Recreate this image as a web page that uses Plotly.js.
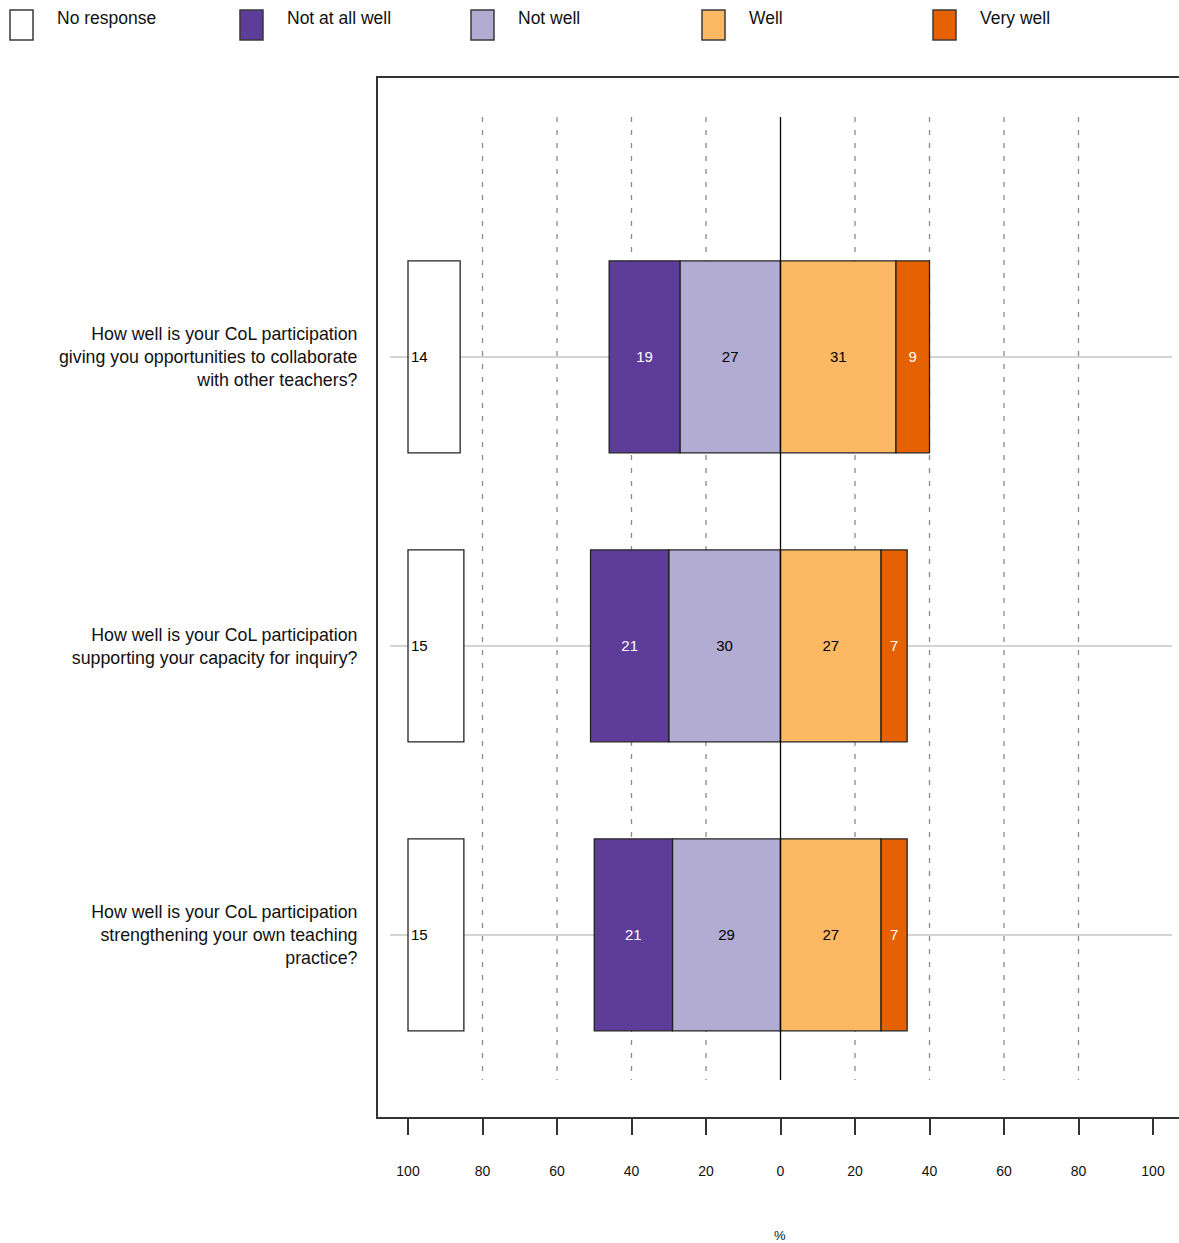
<!DOCTYPE html>
<html>
<head>
<meta charset="utf-8">
<script src="https://cdn.plot.ly/plotly-3.0.1.min.js"></script>
<style>body{margin:0;padding:0;background:#fff}#chart{width:1179px;height:1243px}</style>
</head>
<body>
<div id="chart"></div>
<script>
// ---- data ----
const questions = [
  "How well is your CoL participation<br>giving you opportunities to collaborate<br>with other teachers?",
  "How well is your CoL participation<br>supporting your capacity for inquiry?",
  "How well is your CoL participation<br>strengthening your own teaching<br>practice?"
];
const categories = ["No response", "Not at all well", "Not well", "Well", "Very well"];
const noResponse = [14, 15, 15];
const notAtAllWell = [19, 21, 21];
const notWell = [27, 30, 29];
const well = [31, 27, 27];
const veryWell = [9, 7, 7];
const colors = ["#ffffff", "#5e3c99", "#b2abd2", "#fdb863", "#e66101"];
const textColors = ["#000000", "#ffffff", "#000000", "#000000", "#ffffff"];
const xTickVals = [-100, -80, -60, -40, -20, 0, 20, 40, 60, 80, 100];
const xTickText = ["100", "80", "60", "40", "20", "0", "20", "40", "60", "80", "100"];
const gridVals = [-80, -60, -40, -20, 20, 40, 60, 80];

// ---- layout helpers ----
const W = 1179, H = 1243;
const L = 378, T = 78, B = 1117, R = 1179;
const xp = px => (px - L) / (R - L);
const yp = py => (B - py) / (B - T);
const FONT = "Liberation Sans, Arial, sans-serif";
const barW = 0.664;
const outline = {color: "#222222", width: 1.3};

function barTrace(name, base, vals, idx, anchor) {
  return {
    type: "bar", orientation: "h", name: name,
    y: questions, x: vals, base: base,
    width: barW,
    marker: {color: colors[idx], line: outline},
    text: vals.map(v => Math.abs(v).toString()),
    textposition: "inside",
    insidetextanchor: anchor || "middle",
    textangle: 0,
    constraintext: "none",
    textfont: {family: FONT, size: 15, color: textColors[idx]},
    hoverinfo: "skip",
    showlegend: false
  };
}

const negNotWell = notWell.map(v => -v);
const negNotAtAll = notAtAllWell.map(v => -v);
const traces = [
  barTrace(categories[0], noResponse.map(() => -100), noResponse, 0, "start"),
  barTrace(categories[2], notWell.map(() => 0), negNotWell, 2),
  barTrace(categories[1], negNotWell, negNotAtAll, 1),
  barTrace(categories[3], well.map(() => 0), well, 3),
  barTrace(categories[4], well, veryWell, 4)
];

const shapes = [];
// horizontal light lines through bar centres
questions.forEach((q, i) => {
  shapes.push({type: "line", xref: "x", yref: "y", x0: -104.8, x1: 105.1, y0: i, y1: i,
    line: {color: "#d4d4d4", width: 2}, layer: "below"});
});
// dashed vertical guides
const yTop = -0.965 + (117 - 78) / 289, yBot = 2.630 - (1117 - 1080) / 289;
gridVals.forEach(v => {
  shapes.push({type: "line", xref: "x", yref: "y", x0: v, x1: v, y0: yTop, y1: yBot,
    line: {color: "#8a8a8a", width: 1.3, dash: "5px,8px"}, layer: "below"});
});
// zero line
shapes.push({type: "line", xref: "x", yref: "y", x0: 0, x1: 0, y0: yTop, y1: yBot,
  line: {color: "#000000", width: 1.3}, layer: "above"});

// custom legend
const legX = [10, 240, 471, 702, 933];
const annotations = [];
categories.forEach((c, i) => {
  shapes.push({type: "rect", xref: "paper", yref: "paper",
    x0: xp(legX[i]), x1: xp(legX[i] + 23), y0: yp(40), y1: yp(10),
    fillcolor: colors[i], line: {color: "#3a3a3a", width: 1.5}});
  annotations.push({xref: "paper", yref: "paper", x: xp(legX[i] + 45), y: yp(17.5),
    xanchor: "left", yanchor: "middle", showarrow: false, text: c,
    font: {family: FONT, size: 17.5, color: "#111"}});
});
annotations.push({xref: "paper", yref: "paper", x: xp(780), y: yp(1235),
  xanchor: "center", yanchor: "middle", showarrow: false, text: "%",
  font: {family: FONT, size: 13, color: "#111"}});

const layout = {
  width: W, height: H,
  margin: {l: L, r: W - R, t: T, b: H - B, pad: 0},
  paper_bgcolor: "#ffffff", plot_bgcolor: "#ffffff",
  barmode: "overlay",
  showlegend: false,
  font: {family: FONT, color: "#111"},
  xaxis: {
    range: [-100 - 30 / 3.725, 100 + 26 / 3.725],
    tickvals: xTickVals, ticktext: xTickText,
    ticks: "outside", ticklen: 16, tickwidth: 2, tickcolor: "#333",
    showline: true, linecolor: "#333", linewidth: 2, mirror: true,
    showgrid: false, zeroline: false, fixedrange: true,
    ticklabelstandoff: 24,
    tickfont: {family: FONT, size: 14, color: "#111"}
  },
  yaxis: {
    type: "category", categoryorder: "array", categoryarray: questions,
    range: [2.630, -0.965],
    showline: true, linecolor: "#333", linewidth: 2, mirror: false,
    showgrid: false, zeroline: false, ticks: "", fixedrange: true,
    ticklabelstandoff: 15,
    tickfont: {family: FONT, size: 17.8, color: "#111"}
  },
  shapes: shapes,
  annotations: annotations
};

Plotly.newPlot("chart", traces, layout, {displayModeBar: false, staticPlot: true});
</script>
</body>
</html>
